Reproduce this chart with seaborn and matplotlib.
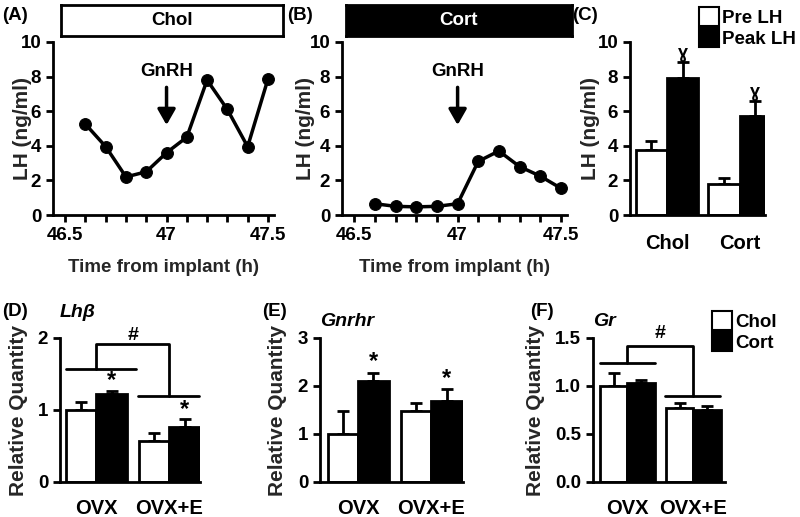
import numpy as np
import pandas as pd
import matplotlib
matplotlib.use('Agg')
import matplotlib.pyplot as plt
import seaborn as sns
from matplotlib.patches import Patch

# --- data ---
times = [46.6, 46.7, 46.8, 46.9, 47.0, 47.1, 47.2, 47.3, 47.4, 47.5]
lh_chol = [5.25, 3.95, 2.2, 2.5, 3.6, 4.5, 7.8, 6.1, 3.95, 7.85]
lh_cort = [0.65, 0.5, 0.47, 0.5, 0.65, 3.1, 3.7, 2.8, 2.25, 1.55]

c_groups = ['Chol', 'Cort']
c_pre = [3.75, 1.8]
c_pre_err = [0.5, 0.35]
c_peak = [7.9, 5.7]
c_peak_err = [0.95, 0.9]

groups = ['OVX', 'OVX+E']
lhb_chol = [1.0, 0.57]
lhb_chol_err = [0.11, 0.11]
lhb_cort = [1.22, 0.76]
lhb_cort_err = [0.05, 0.11]

gnrhr_chol = [1.0, 1.47]
gnrhr_chol_err = [0.47, 0.17]
gnrhr_cort = [2.1, 1.69]
gnrhr_cort_err = [0.18, 0.24]

gr_chol = [1.0, 0.77]
gr_chol_err = [0.14, 0.05]
gr_cort = [1.03, 0.75]
gr_cort_err = [0.03, 0.04]

# --- style ---
sns.set_style('ticks')
plt.rcParams['font.family'] = ['Liberation Sans', 'DejaVu Sans']
plt.rcParams['font.weight'] = 'bold'
plt.rcParams['axes.labelweight'] = 'bold'
plt.rcParams['font.size'] = 13
plt.rcParams['axes.linewidth'] = 2
plt.rcParams['xtick.major.width'] = 2
plt.rcParams['ytick.major.width'] = 2
plt.rcParams['xtick.major.size'] = 5
plt.rcParams['ytick.major.size'] = 5
plt.rcParams['xtick.color'] = 'black'
plt.rcParams['ytick.color'] = 'black'
plt.rcParams['axes.edgecolor'] = 'black'
plt.rcParams['text.color'] = 'black'

W, H = 800, 517
fig = plt.figure(figsize=(W / 100, H / 100), dpi=100)


def px_axes(l, t, r, b):
    return fig.add_axes([l / W, 1 - b / H, (r - l) / W, (b - t) / H])


def clean(ax, size=13.5):
    sns.despine(ax=ax)
    ax.tick_params(labelsize=size)
    for lab in ax.get_xticklabels() + ax.get_yticklabels():
        lab.set_fontweight('bold')


def add_errors(ax, errs):
    bars = sorted(ax.patches, key=lambda p: p.get_x())
    xs = [p.get_x() + p.get_width() / 2 for p in bars]
    hs = [p.get_height() for p in bars]
    ax.errorbar(xs, hs, yerr=[np.zeros(len(errs)), errs], fmt='none',
                ecolor='black', elinewidth=2, capsize=4, capthick=2, zorder=1)
    return xs, hs


def legend_box(labels, x, y):
    fig.legend(handles=[Patch(facecolor='white', edgecolor='black', lw=1.5, label=labels[0]),
                        Patch(facecolor='black', edgecolor='black', lw=1.5, label=labels[1])],
               loc='upper left', bbox_to_anchor=(x / W, 1 - y / H), frameon=False,
               borderpad=0, borderaxespad=0,
               handlelength=1.05, handleheight=1.15, handletextpad=0.2, labelspacing=0.08,
               prop={'weight': 'bold', 'size': 13.5})


# --- time course panels ---
def time_panel(ax, values, label_x):
    sns.lineplot(x=times, y=values, ax=ax, color='black', lw=2.5,
                 marker='o', markersize=8.5, markeredgecolor='black')
    ax.set_xlim(46.44, 47.53)
    ax.set_ylim(0, 10)
    ax.set_yticks([0, 2, 4, 6, 8, 10])
    ax.set_xticks(np.round(np.arange(46.5, 47.51, 0.1), 1))
    ax.set_xticklabels(['46.5', '', '', '', '', '47', '', '', '', '', '47.5'])
    ax.set_ylabel('LH (ng/ml)', fontsize=15)
    ax.yaxis.set_label_coords(label_x, 0.5)
    ax.set_xlabel('Time from implant (h)', fontsize=13.5, labelpad=11)
    ax.annotate('GnRH', xy=(47.0, 5.2), xytext=(47.0, 8.3), ha='center', va='center',
                fontsize=13.5, fontweight='bold',
                arrowprops=dict(arrowstyle='-|>,head_width=0.4,head_length=0.7',
                                color='black', lw=2.5, shrinkA=3, shrinkB=0))
    clean(ax)


axA = px_axes(53, 42, 274, 215)
time_panel(axA, lh_chol, -0.095)
axB = px_axes(342, 42, 567, 215)
time_panel(axB, lh_cort, -0.12)

for (l, r, label, dark) in [(61, 283, 'Chol', False), (346, 572, 'Cort', True)]:
    bx = px_axes(l, 5, r, 36)
    bx.set_xticks([])
    bx.set_yticks([])
    bx.set_facecolor('black' if dark else 'white')
    for s in bx.spines.values():
        s.set_linewidth(2)
        s.set_color('black')
    bx.text(0.5, 0.5, label, ha='center', va='center', fontsize=13.5, fontweight='bold',
            color='white' if dark else 'black', transform=bx.transAxes)

# --- panel C ---
axC = px_axes(630, 42, 765, 215)
dfC = pd.DataFrame({'group': c_groups * 2,
                    'phase': ['Pre LH'] * 2 + ['Peak LH'] * 2,
                    'lh': c_pre + c_peak})
sns.barplot(data=dfC, x='group', y='lh', hue='phase', ax=axC, legend=False,
            palette={'Pre LH': 'white', 'Peak LH': 'black'}, edgecolor='black',
            linewidth=2, width=0.86, errorbar=None, zorder=2)
xs, hs = add_errors(axC, [c_pre_err[0], c_peak_err[0], c_pre_err[1], c_peak_err[1]])
for i, e in [(1, c_peak_err[0]), (3, c_peak_err[1])]:
    axC.text(xs[i], hs[i] + e + 0.5, '\u0263', ha='center', va='center',
             fontsize=13, fontweight='bold')
axC.set_xlim(-0.51, 1.35)
axC.set_ylim(0, 10)
axC.set_yticks([0, 2, 4, 6, 8, 10])
axC.set_ylabel('LH (ng/ml)', fontsize=15)
axC.yaxis.set_label_coords(-0.22, 0.5)
axC.set_xlabel('')
axC.tick_params(axis='x', length=0, pad=14)
clean(axC)
axC.tick_params(axis='x', labelsize=14.5)
legend_box(['Pre LH', 'Peak LH'], 699, 7)


# --- qPCR panels ---
def qpcr_panel(ax, chol, chol_err, cort, cort_err, gene, ylim, yticks, ylabels, xlim,
               tpad, label_x):
    df = pd.DataFrame({'group': groups * 2,
                       'treat': ['Chol'] * 2 + ['Cort'] * 2,
                       'rq': chol + cort})
    sns.barplot(data=df, x='group', y='rq', hue='treat', ax=ax, legend=False,
                palette={'Chol': 'white', 'Cort': 'black'}, edgecolor='black',
                linewidth=2, width=0.83, errorbar=None, zorder=2)
    xs, hs = add_errors(ax, [chol_err[0], cort_err[0], chol_err[1], cort_err[1]])
    ax.set_xlim(*xlim)
    ax.set_ylim(*ylim)
    ax.set_yticks(yticks)
    ax.set_yticklabels(ylabels)
    ax.set_ylabel('Relative Quantity', fontsize=15)
    ax.yaxis.set_label_coords(label_x, 0.5)
    ax.set_xlabel('')
    ax.tick_params(axis='x', length=0, pad=12)
    ax.set_title(gene, loc='left', fontsize=14, fontweight='bold', style='italic', pad=tpad)
    clean(ax)
    ax.tick_params(axis='x', labelsize=14.5)
    return xs, hs


def bracket(ax, y_left, y_right, y_top, xl, xr, ytxt):
    kw = dict(color='black', lw=2, clip_on=False)
    ax.plot([xl[0], xl[1]], [y_left, y_left], **kw)
    ax.plot([xr[0], xr[1]], [y_right, y_right], **kw)
    ax.plot([0, 0, 1, 1], [y_left, y_top, y_top, y_right], **kw)
    ax.text(0.5, ytxt, '#', ha='center', va='center', fontsize=14, fontweight='bold',
            clip_on=False)


def stars(ax, xs, hs, errs, offset):
    for i in (1, 3):
        ax.text(xs[i], hs[i] + errs[i] + offset, '*', ha='center', va='center',
                fontsize=17, fontweight='bold')


axD = px_axes(60, 338, 200, 482)
xs, hs = qpcr_panel(axD, lhb_chol, lhb_chol_err, lhb_cort, lhb_cort_err,
                    'Lh\u03b2', (0, 2), [0, 1, 2], ['0', '1', '2'], (-0.5, 1.42), 15, -0.229)
stars(axD, xs, hs, [None, lhb_cort_err[0], None, lhb_cort_err[1]], 0.14)
bracket(axD, 1.57, 1.19, 1.92, (-0.42, 0.54), (0.57, 1.41), 2.03)

axE = px_axes(320, 338, 463, 482)
xs, hs = qpcr_panel(axE, gnrhr_chol, gnrhr_chol_err, gnrhr_cort, gnrhr_cort_err,
                    'Gnrhr', (0, 3), [0, 1, 2, 3], ['0', '1', '2', '3'], (-0.52, 1.43), 9,
                    -0.231)
stars(axE, xs, hs, [None, gnrhr_cort_err[0], None, gnrhr_cort_err[1]], 0.22)

axF = px_axes(593, 338, 725, 482)
xs, hs = qpcr_panel(axF, gr_chol, gr_chol_err, gr_cort, gr_cort_err,
                    'Gr', (0, 1.5), [0, 0.5, 1.0, 1.5], ['0.0', '0.5', '1.0', '1.5'],
                    (-0.52, 1.48), 9, -0.364)
bracket(axF, 1.24, 0.90, 1.42, (-0.41, 0.42), (0.57, 1.41), 1.55)
legend_box(['Chol', 'Cort'], 712, 311)

# --- panel letters ---
for txt, x, y in [('(A)', 2, 15), ('(B)', 287, 15), ('(C)', 572, 15),
                  ('(D)', 2, 312), ('(E)', 262, 312), ('(F)', 530, 312)]:
    fig.text(x / W, 1 - y / H, txt, ha='left', va='center', fontsize=13.5, fontweight='bold')

fig.savefig('out.png', dpi=100)
